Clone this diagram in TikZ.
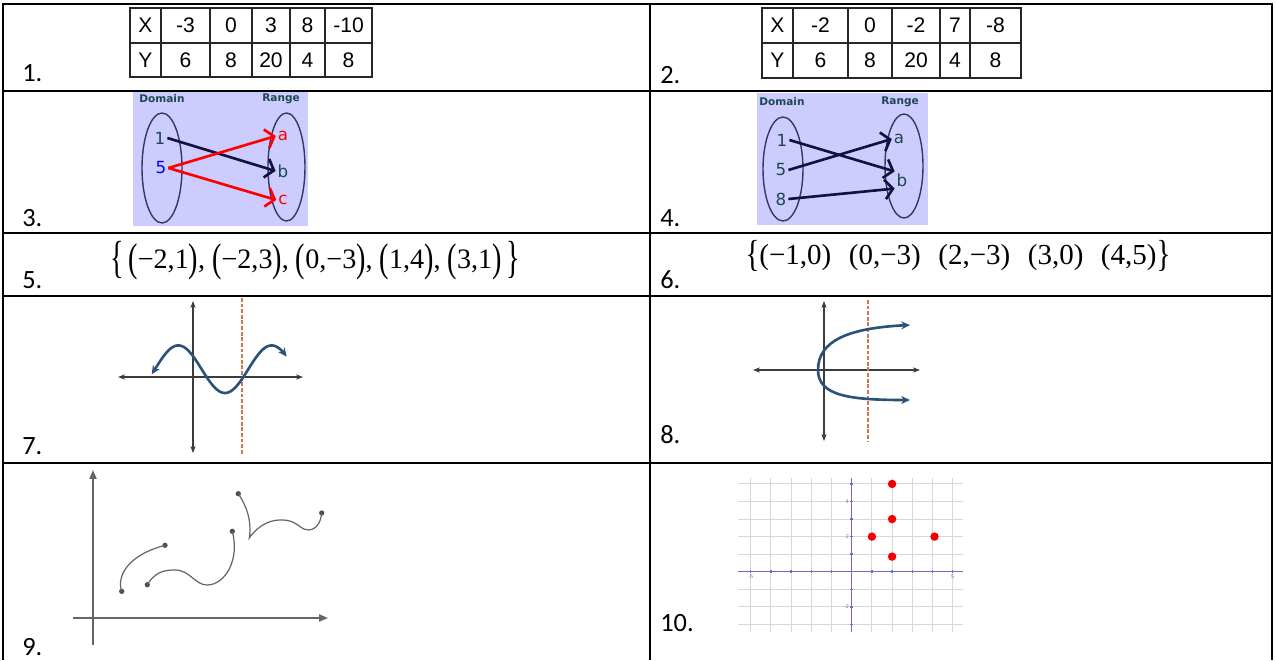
\documentclass[tikz,border=0pt]{standalone}
\usepackage{fontspec}
\usepackage{graphicx}
\setmainfont{Carlito}
\newfontfamily\arialfont{Liberation Sans}
\newfontfamily\timesfont{Liberation Serif}
\newfontfamily\verdfont{DejaVu Sans}
\usetikzlibrary{arrows.meta, positioning, calc}
\definecolor{mapbg}{RGB}{204,204,255}
\definecolor{mapteal}{RGB}{28,72,78}
\definecolor{mapnavy}{RGB}{18,18,60}
\definecolor{curveblue}{RGB}{42,82,122}
\definecolor{dashorange}{RGB}{205,120,80}
\definecolor{axisgray}{RGB}{60,60,60}
\definecolor{gridgray}{RGB}{215,215,215}
\definecolor{gridblue}{RGB}{110,110,200}
\definecolor{dotred}{RGB}{245,0,0}

% enlarged delimiters for the two sets
\newcommand{\oparen}[2]{\raisebox{-#2em}{\scalebox{1}[#1]{(}}}
\newcommand{\cparen}[2]{\raisebox{-#2em}{\scalebox{1}[#1]{)}}}
\newcommand{\obrc}[2]{\raisebox{-#2em}{\scalebox{1}[#1]{\{}}}
\newcommand{\cbrc}[2]{\raisebox{-#2em}{\scalebox{1}[#1]{\}}}}
\newcommand{\pa}[1]{\oparen{1.42}{0.1}#1\cparen{1.42}{0.1}}

\begin{document}
\begin{tikzpicture}[x=0.02cm, y=-0.02cm,
    frame/.style={line width=1.2pt, black},
    numlabel/.style={anchor=base west, inner sep=0pt, font=\fontsize{15}{18}\selectfont},
    tableline/.style={line width=0.6pt, black!85},
    cell/.style={inner sep=0pt, font=\arialfont\fontsize{12}{14}\selectfont},
    mapbox/.style={fill=mapbg, draw=none},
    mapoval/.style={draw=mapnavy!80!mapbg, line width=0.8pt},
    maphead/.style={font=\verdfont\bfseries\fontsize{6}{7}\selectfont, text=mapteal, inner sep=0pt},
    mapitem/.style={font=\verdfont\fontsize{9.5}{11}\selectfont, text=mapteal, inner sep=1pt},
    maparrow/.style={line width=1.5pt, -{Straight Barb[length=4.5pt, width=11pt]}},
    settext/.style={font=\timesfont\fontsize{16}{18}\selectfont, inner sep=0pt},
    coordaxis/.style={axisgray, line width=0.6pt, {Stealth[length=4pt, width=3pt]}-{Stealth[length=4pt, width=3pt]}},
    vline/.style={dashorange, line width=1.4pt, dash pattern=on 2.2pt off 1pt},
    sinecurve/.style={curveblue, line width=1.5pt, {Stealth[length=5pt, width=4.5pt]}-{Stealth[length=5pt, width=4.5pt]}},
    sketchaxis/.style={black!60, line width=0.9pt, -{Triangle[length=5pt, width=4pt]}},
    sketch/.style={black!60, line width=0.7pt},
    enddot/.style={circle, fill=black!70, inner sep=0pt, minimum size=3pt},
    gridline/.style={gridgray, line width=0.6pt},
    gridaxisline/.style={gridblue, line width=0.8pt},
    ticklabel/.style={font=\arialfont\fontsize{3}{3}\selectfont, text=gridblue, inner sep=1pt},
    reddot/.style={circle, fill=dotred, inner sep=0pt, minimum size=4.8pt}
]
    \useasboundingbox (0,0) rectangle (1275,660);

    % outer grid of the sheet
    \draw[frame] (3,660) -- (3,4) -- (1272,4) -- (1272,660);
    \draw[frame] (650,4) -- (650,660);
    \foreach \yy in {91,233,296,463}
        \draw[frame] (3,\yy) -- (1272,\yy);

    \foreach \nm/\xx/\yy in {1/22/81, 2/660/83, 3/22/226, 4/660/226, 5/22/288,
                             6/660/288, 7/22/454, 8/660/443, 9/22/655, 10/660/631}
        \node[numlabel] (lbl\nm) at (\xx,\yy) {\nm.};

    % 1. table
    \draw[tableline] (130,8) rectangle (372,77);
    \draw[tableline] (130,43) -- (372,43);
    \foreach \xx in {161,210,252,290,325}
        \draw[tableline] (\xx,8) -- (\xx,77);
    \foreach \xa/\xb/\xval/\yval [count=\i] in {130/161/X/Y, 161/210/-3/6, 210/252/0/8,
                                               252/290/3/20, 290/325/8/4, 325/372/-10/8} {
        \node[cell] (ta-x\i) at ({(\xa+\xb)/2},25.5) {\xval};
        \node[cell] (ta-y\i) at ({(\xa+\xb)/2},60) {\yval};
    }

    % 2. table
    \draw[tableline] (762,8) rectangle (1021,78);
    \draw[tableline] (762,43) -- (1021,43);
    \foreach \xx in {793,848,892,940,970}
        \draw[tableline] (\xx,8) -- (\xx,78);
    \foreach \xa/\xb/\xval/\yval [count=\i] in {762/793/X/Y, 793/848/-2/6, 848/892/0/8,
                                               892/940/-2/20, 940/970/7/4, 970/1021/-8/8} {
        \node[cell] (tb-x\i) at ({(\xa+\xb)/2},25.5) {\xval};
        \node[cell] (tb-y\i) at ({(\xa+\xb)/2},60.5) {\yval};
    }

    % 3. mapping
    \fill[mapbox] (133,92) rectangle (308,226);
    \node[maphead] (m3-dom) at (162,99) {Domain};
    \node[maphead] (m3-rng) at (281,99) {Range};
    \draw[mapoval] (162,168) ellipse [x radius=20, y radius=55];
    \draw[mapoval] (286.5,167) ellipse [x radius=18.5, y radius=54];
    \node[mapitem] (m3-1) at (160,138) {1};
    \node[mapitem, text=blue] (m3-5) at (161,168) {5};
    \node[mapitem, text=red] (m3-a) at (283,136) {a};
    \node[mapitem] (m3-b) at (283,171) {b};
    \node[mapitem, text=red] (m3-c) at (283,200) {c};
    \draw[maparrow, mapnavy] (m3-1.east) -- (m3-b.west);
    \draw[maparrow, red] (m3-5.east) -- (m3-a.west);
    \draw[maparrow, red] (m3-5.east) -- (m3-c.west);

    % 4. mapping
    \fill[mapbox] (757,93) rectangle (928,225);
    \node[maphead] (m4-dom) at (782,102) {Domain};
    \node[maphead] (m4-rng) at (900,102) {Range};
    \draw[mapoval] (783,169) ellipse [x radius=20, y radius=52];
    \draw[mapoval] (904,166) ellipse [x radius=19, y radius=52];
    \node[mapitem] (m4-1) at (782,140) {1};
    \node[mapitem] (m4-5) at (781,170) {5};
    \node[mapitem] (m4-8) at (781,199) {8};
    \node[mapitem] (m4-a) at (899,139) {a};
    \node[mapitem] (m4-b) at (902,180) {b};
    \draw[maparrow, mapnavy] (m4-1.east) -- (m4-b.north west);
    \draw[maparrow, mapnavy] (m4-5.east) -- (m4-a.west);
    \draw[maparrow, mapnavy] (m4-8.east) -- (m4-b.south west);

    % 5. and 6. sets
    \node[settext] (set5) at (315,261)
        {\obrc{1.6}{0.14}\,\pa{−2,1}, \pa{−2,3}, \pa{0,−3}, \pa{1,4}, \pa{3,1}\,\cbrc{1.6}{0.14}};
    \node[settext, font=\timesfont\fontsize{16.5}{18}\selectfont] (set6) at (958,256)
        {\obrc{1.3}{0.07}(−1,0)\hspace{10pt}(0,−3)\hspace{10pt}(2,−3)\hspace{10pt}(3,0)\hspace{10pt}(4,5)\cbrc{1.3}{0.07}};

    % 7. sine curve
    \draw[coordaxis] (118,377) -- (303,377);
    \draw[coordaxis] (193,453) -- (193,301);
    \draw[vline] (242,298) -- (242,455);
    \draw[sinecurve] plot[domain=151.7:286.7, samples=80] (\x, {369.2-23.8*sin((\x-178.3)*3.857+90)});

    % 8. sideways parabola
    \draw[coordaxis] (753,370) -- (920,370);
    \draw[coordaxis] (824,441) -- (824,301);
    \draw[vline] (868,300) -- (868,441);
    \draw[sinecurve] (910,325) .. controls (850,328) and (818,340) .. (818,370)
        .. controls (818,396) and (850,400) .. (910,400);

    % 9. pieces with end points
    \draw[sketchaxis] (93,645) -- (93,470);
    \draw[sketchaxis] (73,618) -- (328,618);
    \node[enddot] (p1) at (121.7,591.3) {};
    \node[enddot] (p2) at (165,545.3) {};
    \node[enddot] (p3) at (147.3,584.7) {};
    \node[enddot] (p4) at (232.3,531.3) {};
    \node[enddot] (p5) at (238.3,493.7) {};
    \node[enddot] (p6) at (321.7,513) {};
    \draw[sketch] (p1.center) .. controls (117,578) and (125,556) .. (p2.center);
    \draw[sketch] (p3.center) .. controls (155,572) and (164,570) .. (175,570)
        .. controls (190,570) and (195,585) .. (207,585)
        .. controls (225,585) and (240,560) .. (p4.center);
    \draw[sketch] (p5.center) .. controls (246,505) and (252,520) .. (249.3,538)
        .. controls (258,525) and (272,518) .. (286.7,520.3)
        .. controls (298,522) and (302,531) .. (309,530)
        .. controls (318,529) and (321,520) .. (p6.center);

    % 10. plotted points
    \foreach \i in {-5,...,5}
        \draw[gridline] ({851.7+20.2*\i},478) -- ({851.7+20.2*\i},632);
    \foreach \j in {-3,...,5}
        \draw[gridline] (738,{571.7-17.55*\j}) -- (963,{571.7-17.55*\j});
    \draw[gridaxisline] (738,571.7) -- (963,571.7);
    \draw[gridaxisline] (851.7,478) -- (851.7,632);
    \foreach \i in {-5,...,5}
        \draw[gridaxisline] ({851.7+20.2*\i},570) -- ({851.7+20.2*\i},573.4);
    \foreach \j in {-3,...,5}
        \draw[gridaxisline] (850,{571.7-17.55*\j}) -- (853.4,{571.7-17.55*\j});
    \node[ticklabel, below] (tk-xl) at (750.7,573) {-5};
    \node[ticklabel, below] (tk-xr) at (952.7,573) {5};
    \node[ticklabel, left] (tk-y4) at (851,501.5) {4};
    \node[ticklabel, left] (tk-y2) at (851,536.6) {2};
    \node[ticklabel, left] (tk-ym2) at (851,606.8) {-2};
    \foreach \px/\py [count=\k] in {2/5, 2/3, 1/2, 4.1/2, 2/0.86}
        \node[reddot] (pt\k) at ({851.7+20.2*\px},{571.7-17.55*\py}) {};

\end{tikzpicture}
\end{document}
